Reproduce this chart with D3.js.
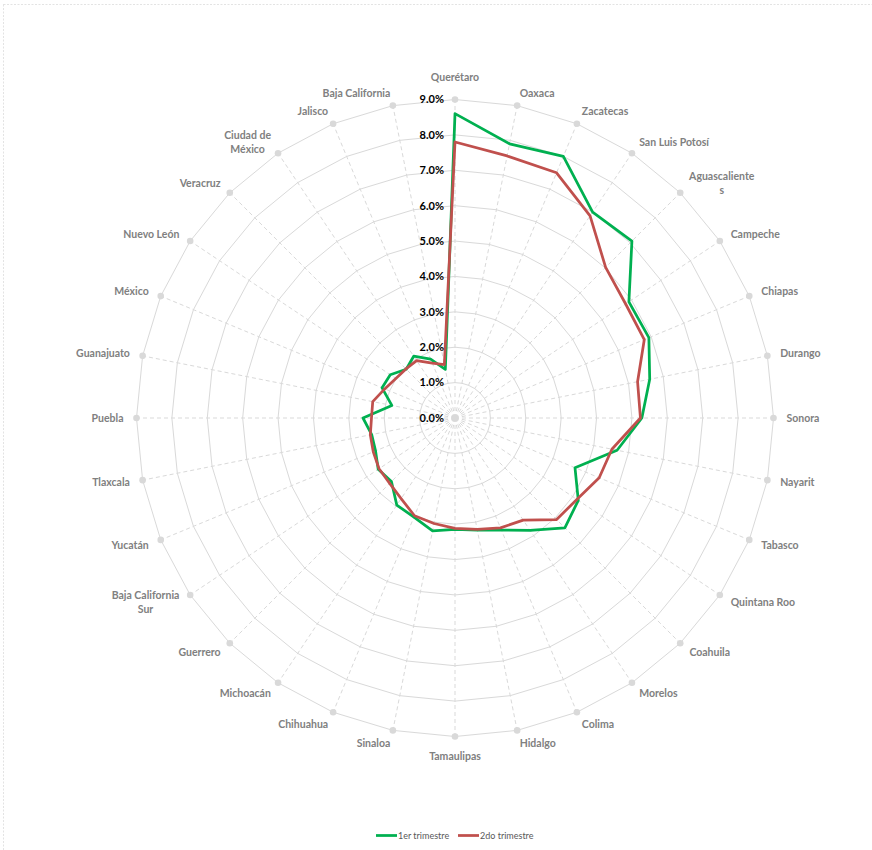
<!DOCTYPE html>
<html><head><meta charset="utf-8">
<script src="https://cdn.jsdelivr.net/npm/d3@7"></script>
<style>
html,body{margin:0;padding:0;background:#fff;}
svg{display:block;}
</style></head>
<body>
<svg id="chart" width="872" height="850"></svg>
<script>
const categories = ["Querétaro","Oaxaca","Zacatecas","San Luis Potosí","Aguascalientes","Campeche","Chiapas","Durango","Sonora","Nayarit","Tabasco","Quintana Roo","Coahuila","Morelos","Colima","Hidalgo","Tamaulipas","Sinaloa","Chihuahua","Michoacán","Guerrero","Baja California Sur","Yucatán","Tlaxcala","Puebla","Guanajuato","México","Nuevo León","Veracruz","Ciudad de México","Jalisco","Baja California"];
const trimestre1 = [8.6,7.9,8.0,7.0,7.07,5.91,5.93,5.61,5.28,4.67,3.67,4.19,4.39,3.82,3.43,3.23,3.15,3.25,3.03,2.96,2.54,2.61,2.43,2.40,2.60,1.82,2.23,2.20,1.95,2.10,1.80,1.40];
const trimestre2 = [7.8,7.55,7.5,6.87,6.02,5.8,5.79,5.26,5.24,4.52,4.41,4.14,4.06,3.47,3.36,3.21,3.12,3.04,2.99,2.74,2.61,2.58,2.5,2.44,2.36,2.37,2.15,2.01,1.96,1.95,1.68,1.54];
const tickValues = [0,1,2,3,4,5,6,7,8,9];
const tickLabels = ["0.0%","1.0%","2.0%","3.0%","4.0%","5.0%","6.0%","7.0%","8.0%","9.0%"];
const seriesNames = ["1er trimestre","2do trimestre"];
const labelBreaks = {"Aguascalientes":["Aguascaliente","s"],"Ciudad de México":["Ciudad de","México"],"Baja California Sur":["Baja California","Sur"]};

const svg = d3.select("#chart");
const cx = 455, cy = 418, R = 318.5;
const r = d3.scaleLinear().domain([0,9]).range([0,R]);
const n = categories.length;
const ang = d3.scaleLinear().domain([0,n]).range([0,2*Math.PI]);
const colors = ["#00B050","#C0504D"];
const gridColor = "#D9D9D9";
const font = "'Liberation Sans Narrow','Lato',sans-serif";

// chart area border
svg.append("rect").attr("x",3.5).attr("y",4.5).attr("width",900).attr("height",900)
  .attr("fill","none").attr("stroke",gridColor).attr("stroke-width",0.75).attr("stroke-dasharray","2,1.5");

const g = svg.append("g").attr("transform",`translate(${cx},${cy})`);

// rings (polygons)
tickValues.filter(t=>t>0).forEach(t=>{
  const pts = d3.range(n).map(i=>[ang(i), r(t)]);
  g.append("path").attr("d", d3.lineRadial().curve(d3.curveLinearClosed)(pts))
   .attr("fill","none").attr("stroke",gridColor).attr("stroke-width",1);
});
// spokes
d3.range(n).forEach(i=>{
  const a = ang(i);
  g.append("line").attr("x1",0).attr("y1",0)
   .attr("x2",Math.sin(a)*r(9)).attr("y2",-Math.cos(a)*r(9))
   .attr("stroke",gridColor).attr("stroke-width",1).attr("stroke-dasharray","4,3");
});
// outer markers
d3.range(n).forEach(i=>{
  const a = ang(i);
  g.append("circle").attr("cx",Math.sin(a)*r(9)).attr("cy",-Math.cos(a)*r(9))
   .attr("r",3.3).attr("fill",gridColor);
});
g.append("circle").attr("cx",0).attr("cy",0).attr("r",3.3).attr("fill",gridColor);

// series
[trimestre1, trimestre2].forEach((vals,k)=>{
  const line = d3.lineRadial().angle((d,i)=>ang(i)).radius(d=>r(d)).curve(d3.curveLinearClosed);
  g.append("path").attr("d", line(vals)).attr("fill","none")
   .attr("stroke",colors[k]).attr("stroke-width",2.75).attr("stroke-linejoin","round");
});

// tick labels
tickValues.forEach((t,i)=>{
  g.append("text").attr("x",-11).attr("y",-r(t)).attr("dy","0.35em")
   .attr("text-anchor","end").attr("font-family",font)
   .attr("font-weight","bold").attr("font-size","11px").attr("fill","#000")
   .text(tickLabels[i]);
});

// category labels
categories.forEach((c,i)=>{
  const a = ang(i);
  const s = Math.sin(a), co = Math.cos(a);
  const mx = s*r(9), my = -co*r(9);
  let x = mx + 13*s, y = my - 13*co, anchor;
  if (Math.abs(s) < 0.05) { anchor = "middle"; y = my + (co>0 ? -22 : 20); }
  else anchor = s>0 ? "start" : "end";
  const lines = labelBreaks[c] || [c];
  const lh = 14;
  const t = g.append("text").attr("text-anchor",anchor)
    .attr("font-family",font)
    .attr("font-weight","bold").attr("font-size","10.5px").attr("fill","#808080");
  lines.forEach((ln,j)=>{
    t.append("tspan").attr("x",x).attr("y", y + (j-(lines.length-1)/2)*lh).attr("dy","0.35em").text(ln);
  });
  if (lines.length>1) {
    const bb = t.node().getBBox();
    t.selectAll("tspan").attr("x", bb.x + bb.width/2).attr("text-anchor","middle");
  }
});

// legend
const leg = svg.append("g");
const legX = [376, 458];
seriesNames.forEach((nm,k)=>{
  leg.append("line").attr("x1",legX[k]).attr("x2",legX[k]+21).attr("y1",835.5).attr("y2",835.5)
    .attr("stroke",colors[k]).attr("stroke-width",2.75);
  leg.append("text").attr("x",legX[k]+22).attr("y",835.5).attr("dy","0.35em")
    .attr("font-family",font).attr("font-size","9px")
    .attr("fill","#595959").text(nm);
});
</script>
</body></html>
